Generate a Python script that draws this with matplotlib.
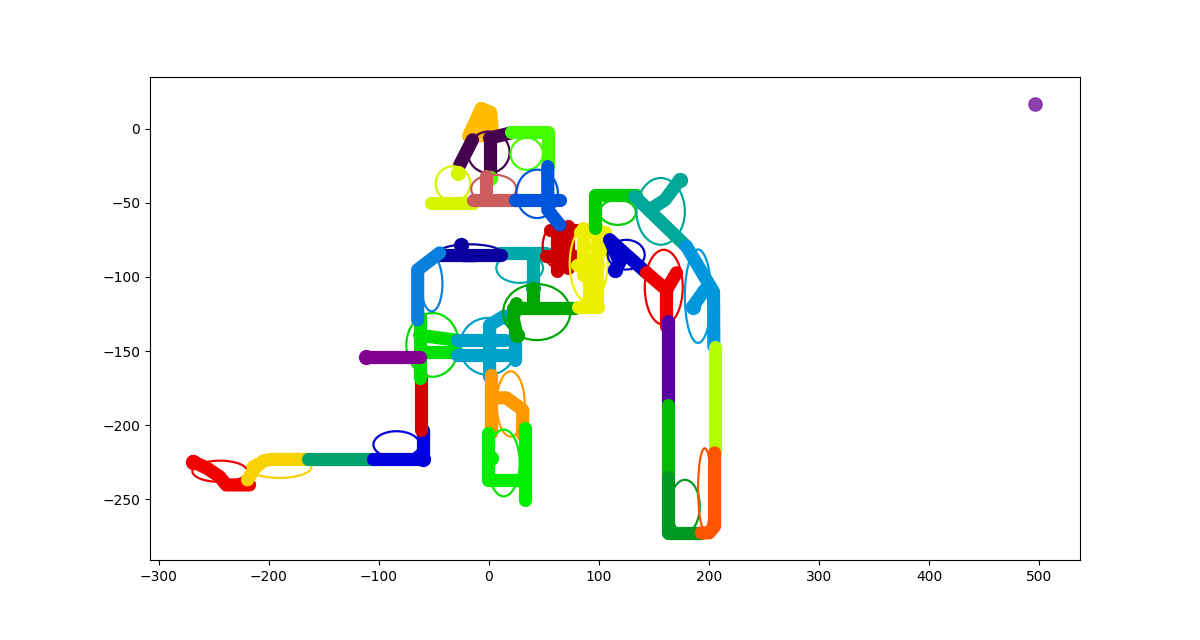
import matplotlib
matplotlib.use("Agg")
import matplotlib.pyplot as plt
from matplotlib.patches import Ellipse

# ---- data ----
CLUSTER_COLORS = [
    "#f20000", "#f8d200", "#00a36a", "#0000dd", "#d40000", "#00e000", "#800090",
    "#00a0c8", "#ff9900", "#00ee00", "#00aaaa", "#0a00a0", "#0a7fdc", "#00a600",
    "#cc0000", "#eeee00", "#00cc00", "#0000c8", "#00a898", "#ee0000", "#0098dd",
    "#5a00a0", "#00bb00", "#009a22", "#b4ff00", "#ff5500", "#ffbb00", "#44004f",
    "#44ff00", "#d6f500", "#cd5c5c", "#0055dd",
]

CLUSTER_PATHS = [
    [[(-269, -224.5), (-256, -229), (-244.8, -234.6), (-238.7, -240.2), (-217.5, -240.2)]],
    [[(-219.4, -236.8), (-213, -229), (-205, -224), (-198, -223), (-164.8, -223)]],
    [[(-164.8, -223), (-105.7, -223)]],
    [[(-105.7, -223), (-60, -223), (-60, -203)]],
    [[(-61.5, -203), (-61.5, -167)]],
    [[(-63, -127), (-63, -168)], [(-63, -139.3), (-29.4, -142.7)], [(-63, -150.5), (-29.4, -150.5)]],
    [[(-111.5, -153.7), (-63, -153.7)]],
    [[(-29.4, -142.6), (14.3, -142.6)], [(-29.4, -152.6), (23.4, -152.6)],
     [(0.6, -167.4), (0.6, -132.4), (14, -126.4)], [(23.4, -135.7), (23.4, -155.8)]],
    [[(2.2, -166), (2.2, -205)], [(2.2, -181.5), (15.8, -181.5), (30.6, -189.6), (30.6, -206.5)]],
    [[(-1.2, -205), (-1.2, -236.8), (32.5, -236.8)], [(32.5, -201.8), (32.5, -250.3)]],
    [[(9.7, -83.8), (52.2, -83.8)], [(39.7, -83.8), (39.7, -107.6)]],
    [[(-46.6, -85.1), (11.3, -85.1)]],
    [[(-44.8, -83.8), (-64.8, -95.2), (-64.8, -128.9)]],
    [[(21.5, -120.8), (77.9, -120.8)], [(39.7, -107.6), (39.7, -120.8)],
     [(25, -118), (22, -128), (25.2, -139)]],
    [[(61.5, -64), (61.5, -96)], [(55, -68.2), (80, -68.2)], [(52, -86), (80, -86)],
     [(71.5, -66), (71.5, -94)]],
    [[(85, -67), (85, -98.6)], [(97.9, -67), (97.9, -120.2)], [(82.5, -69.6), (105, -69.6)],
     [(80.6, -120.2), (98.8, -120.2)], [(80, -92), (98.8, -92)], [(90.6, -88), (90.6, -115)],
     [(97, -80), (105, -82)]],
    [[(96.1, -66.9), (96.1, -44.6), (134, -44.6)]],
    [[(109.7, -75), (143.1, -97.2)], [(109.7, -75), (118.8, -90.5), (114.3, -95.2)]],
    [[(132.5, -45.8), (179.5, -79.5)], [(150.6, -52.5), (160, -48), (173.4, -34.5)]],
    [[(143.1, -97.2), (161.3, -108.7), (161.3, -133.4)], [(161.3, -108.7), (170.4, -97.2)]],
    [[(179.5, -79.5), (204, -110), (204.3, -146.9)], [(185.2, -120), (196, -108.7)]],
    [[(162.6, -130), (162.6, -186)]],
    [[(162.6, -186), (162.6, -234.6)]],
    [[(162.6, -234.6), (162.6, -272.5), (192.9, -272.5)]],
    [[(205, -147), (205, -218.6)]],
    [[(205, -218.6), (205, -268), (200, -272.5), (193, -272.5)]],
    [[(-18.5, -5), (-7, 13.5)], [(-7, 13.5), (1.5, 11), (3.4, -4.2)], [(-12, -4), (-5, 11)],
     [(-3, -4), (-2, 11)], [(-15, -1), (0, 2)]],
    [[(-15, -7.6), (-26.6, -24.5)], [(0.6, -6.4), (21.8, -2.6)], [(0.6, -6.2), (0.6, -33.4)]],
    [[(20.4, -2), (53.4, -2), (53.4, -25.6)]],
    [[(-52.4, -50.2), (-14.5, -50.2)]],
    [[(-14.5, -48), (24.9, -48)], [(-2.4, -32.3), (-2.4, -48)]],
    [[(23.4, -48), (64.3, -48)], [(53.4, -25.6), (53.4, -54.8), (64.3, -64.9)]],
]

# blobs (larger round points) : cluster index, x, y
BLOB_CLUSTER = [0, 3, 6, 9, 11, 10, 17, 18, 20, 29, 28, 13]
BLOB_X = [-269, -60, -111.5, 2.2, -25, 39.7, 114.3, 173.4, 185.2, -28.2, 0.6, 25.2]
BLOB_Y = [-224.5, -223, -153.7, -222, -78.4, -107.6, -95.2, -34.5, -120, -30, -33.4, -139]

ELLIPSE_X = [-244.5, -190.3, None, -84, None, -51.2, None, -0.9, 19.7, 13.4, 27.9, -17.5,
             -52, 43.4, 65.6, 90.6, 117, 124.7, 156, 158.8, 190, None, None, 178, None, 196,
             -7, -0.3, 34.3, -32.7, 4.3, 43.8]
ELLIPSE_Y = [-231, -228, None, -213, None, -145.8, None, -146.8, -185.6, -225.4, -94, -83.7,
             -104.7, -123.7, -79, -91, -56.4, -85, -55.8, -107, -113, None, None, -254.6, None, -243,
             -6.3, -16, -17, -37.2, -40.6, -44]
ELLIPSE_W = [50, 58, None, 42, None, 47.8, None, 51.5, 25.5, 29, 42.5, 57,
             19.4, 61, 33.6, 34.5, 33, 33.6, 44, 34.5, 24, None, None, 27, None, 12,
             12, 38, 29.4, 31.5, 41, 37.8]
ELLIPSE_H = [14.3, 15, None, 18, None, 43, None, 38.4, 44, 45, 20, 11.4,
             37, 37.8, 32, 52.6, 17, 20, 45, 50.6, 63, None, None, 35.7, None, 55,
             4.5, 28, 21.6, 23.6, 19, 32.6]

OUTLIER_X = [496]
OUTLIER_Y = [16.5]

# ---- plot ----
fig = plt.figure(figsize=(12, 6.4), dpi=100)
ax = fig.add_axes([0.125, 0.125, 0.775, 0.755])

for i, color in enumerate(CLUSTER_COLORS):
    for path in CLUSTER_PATHS[i]:
        xs = [p[0] for p in path]
        ys = [p[1] for p in path]
        ax.plot(xs, ys, color=color, lw=9.5, solid_capstyle="round",
                solid_joinstyle="round", zorder=2)
    for c, bx, by in zip(BLOB_CLUSTER, BLOB_X, BLOB_Y):
        if c == i:
            ax.plot([bx], [by], "o", color=color, ms=11, mec="none", zorder=2)
    if ELLIPSE_X[i] is not None:
        e = Ellipse((ELLIPSE_X[i], ELLIPSE_Y[i]), ELLIPSE_W[i], ELLIPSE_H[i],
                    fill=False, edgecolor=color, lw=1.6, zorder=2)
        ax.add_patch(e)

ax.scatter(OUTLIER_X, OUTLIER_Y, s=90, color="#7b1fa2", alpha=0.85, zorder=3)

ax.set_xlim(-308, 537)
ax.set_ylim(-290.8, 34.9)
ax.set_xticks([-300, -200, -100, 0, 100, 200, 300, 400, 500])
ax.set_yticks([0, -50, -100, -150, -200, -250])

fig.savefig("out.png", dpi=100)
